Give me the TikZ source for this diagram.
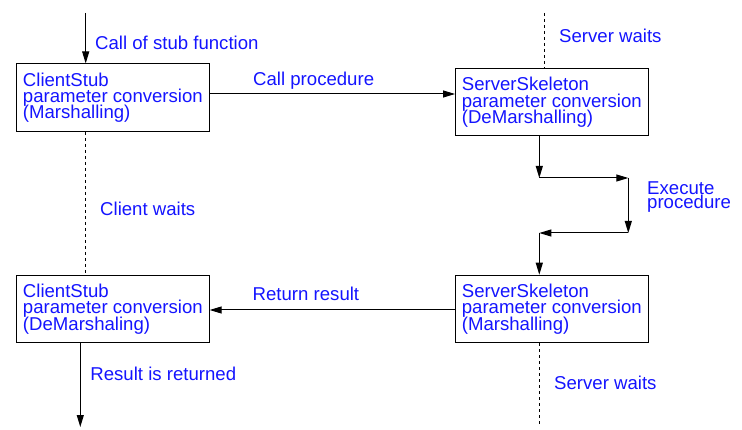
\documentclass[tikz,border=0pt]{standalone}
\usepackage{fontspec}
\setmainfont{Liberation Sans}
\usetikzlibrary{arrows.meta}
\definecolor{labelblue}{RGB}{20,20,255}
\lineskiplimit=-20pt

\begin{document}
\begin{tikzpicture}[x=1pt,y=-1pt,>={Triangle[length=12pt,width=7pt]},
    every node/.style={font=\fontsize{18.6pt}{16.3pt}\selectfont, text=labelblue},
    box/.style={draw=black, line width=1pt, minimum width=192.5pt, minimum height=67.5pt, align=left, inner sep=0pt},
    lbl/.style={anchor=base west, inner sep=0pt},
    lifeline/.style={line width=1pt, dash pattern=on 3pt off 3pt}]
    \useasboundingbox (0,0) rectangle (742,430);
    \node[box] (cstub1) at (112.9,97.7) {ClientStub\\parameter conversion\\(Marshalling)};
    \node[box] (skel1) at (551.8,102.2) {ServerSkeleton\\parameter conversion\\(DeMarshalling)};
    \node[box] (cstub2) at (112.9,309) {ClientStub\\parameter conversion\\(DeMarshaling)};
    \node[box] (skel2) at (551.8,309) {ServerSkeleton\\parameter conversion\\(Marshalling)};
    \coordinate (cstart) at (85.7,13);
    \coordinate (cend) at (80.3,427);
    \coordinate (swait1) at (544,13);
    \coordinate (swait2) at (539.3,425);
    \coordinate (callrow) at (0,94);
    \coordinate (retrow) at (0,310);
    \coordinate (ex1) at (539.3,178);
    \coordinate (ex2) at (628.3,178);
    \coordinate (ex3) at (628.3,233);
    \coordinate (ex4) at (539.3,233);
    \draw[line width=1pt,->](cstart)--(cstub1.north -| cstart);
    \draw[lifeline](cstub1.south -| cstart)--(cstub2.north -| cstart);
    \draw[line width=1pt,->](cstub2.south -| cend)--(cend);
    \draw[lifeline](swait1)--(skel1.north -| swait1);
    \draw[lifeline](skel2.south -| swait2)--(swait2);
    \draw[line width=1pt,->](cstub1.east |- callrow)--(skel1.west |- callrow);
    \draw[line width=1pt,->](skel2.west |- retrow)--(cstub2.east |- retrow);
    \draw[line width=1pt,->](skel1.south -| ex1)--(ex1);
    \draw[line width=1pt,->](ex1)--(ex2);
    \draw[line width=1pt,->](ex2)--(ex3);
    \draw[line width=1pt,->](ex3)--(ex4);
    \draw[line width=1pt,->](ex4)--(skel2.north -| ex4);
    \node[lbl] (stubcall) at (95,49.3) {Call of stub function};
    \node[lbl] (proccall) at (253,86) {Call procedure};
    \node[lbl] (swaits1) at (559,42.7) {Server waits};
    \node[lbl] (cwaits) at (100,216) {Client waits};
    \node[anchor=west, inner sep=0pt, align=left, font=\fontsize{18.6pt}{13.3pt}\selectfont] (execproc) at (647,197) {Execute\\procedure};
    \node[lbl] (retres) at (252.5,300.7) {Return result};
    \node[lbl] (resret) at (90.2,380.7) {Result is returned};
    \node[lbl] (swaits2) at (554,389.3) {Server waits};
\end{tikzpicture}
\end{document}
